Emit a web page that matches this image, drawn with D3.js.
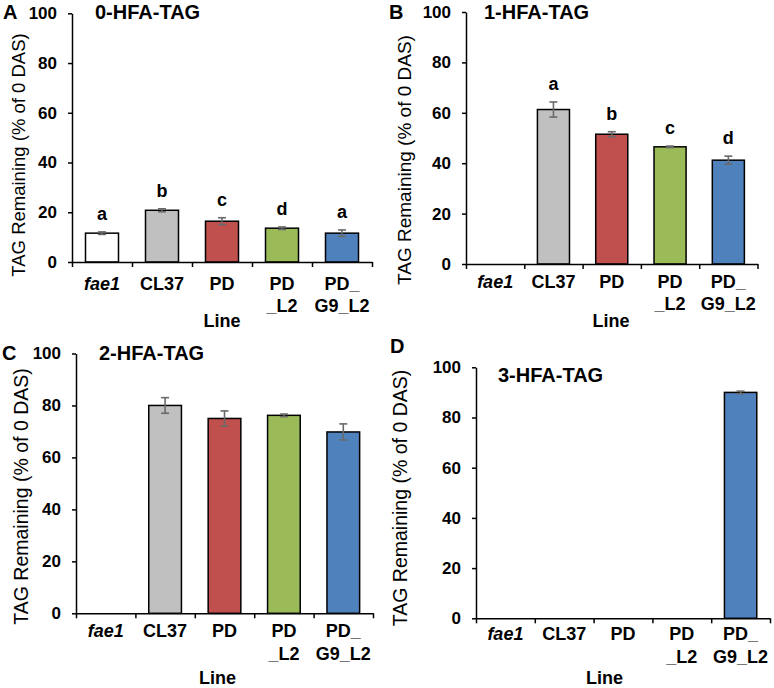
<!DOCTYPE html>
<html><head><meta charset="utf-8">
<script src="https://cdn.jsdelivr.net/npm/d3@7"></script>
<style>
html,body{margin:0;padding:0;background:#fff;}
svg{display:block;font-family:"Liberation Sans",Arial,sans-serif;}
</style></head>
<body>
<svg id="chart" width="774" height="688"></svg>
<script>
// ---------- DATA ----------
const categories = ["fae1", "CL37", "PD", "PD_L2", "PD_G9_L2"];
const categoryLabelLines = [["fae1"], ["CL37"], ["PD"], ["PD", "_L2"], ["PD_", "G9_L2"]];
const barColors = ["#ffffff", "#c0c0c0", "#c0504d", "#9bbb59", "#4f81bd"];
const yTicks = [0, 20, 40, 60, 80, 100];

const values0 = [11.6, 20.8, 16.4, 13.6, 11.6];
const errors0 = [0.5, 0.6, 1.4, 0.5, 1.3];
const letters0 = ["a", "b", "c", "d", "a"];

const values1 = [null, 61.3, 51.5, 46.5, 41.2];
const errors1 = [null, 3.0, 1.0, 0.3, 1.6];
const letters1 = ["", "a", "b", "c", "d"];

const values2 = [null, 80.0, 75.0, 76.2, 69.8];
const errors2 = [null, 3.0, 2.9, 0.5, 3.1];
const letters2 = ["", "", "", "", ""];

const values3 = [null, null, null, null, 90.0];
const errors3 = [null, null, null, null, 0.5];
const letters3 = ["", "", "", "", ""];

const panelTitles = ["0-HFA-TAG", "1-HFA-TAG", "2-HFA-TAG", "3-HFA-TAG"];
const panelLetters = ["A", "B", "C", "D"];
const yAxisTitle = "TAG Remaining (% of 0 DAS)";
const xAxisTitle = "Line";

// ---------- LAYOUT ----------
const layouts = [
  {x0:72, x1:372, y0:262, y100:13.3, letter:[3,19], title:[95,19], yTitle:[18,155], yTitleSize:18.5, l1:289.5, l2:311.5, xTitle:[222,326.5]},
  {x0:466, x1:757.5, y0:264, y100:12, letter:[389,19], title:[484,19], yTitle:[404.5,160], yTitleSize:19, l1:288, l2:310, xTitle:[611,326.5]},
  {x0:76, x1:373, y0:613.3, y100:353.5, letter:[2,360], title:[99,360], yTitle:[21,496.5], yTitleSize:19.5, l1:636.5, l2:659.5, xTitle:[217.5,684]},
  {x0:476, x1:770, y0:618.3, y100:367.3, letter:[390,353], title:[498,382], yTitle:[400,498], yTitleSize:19.5, l1:640, l2:663, xTitle:[604.5,684]}
];
const panelData = [
  {values: values0, errors: errors0, letters: letters0},
  {values: values1, errors: errors1, letters: letters1},
  {values: values2, errors: errors2, letters: letters2},
  {values: values3, errors: errors3, letters: letters3}
];

const svg = d3.select("#chart");

layouts.forEach((L, p) => {
  const D = panelData[p];
  const g = svg.append("g");
  const y = d3.scaleLinear().domain([0, 100]).range([L.y0, L.y100]);
  const x = d3.scaleBand().domain(categories).range([L.x0, L.x1]).paddingInner(0.45).paddingOuter(0.225);
  const xb = d3.scaleLinear().domain([0, categories.length]).range([L.x0, L.x1]);

  // bars
  const rows = categories.map((c, i) => ({c, i, v: D.values[i], e: D.errors[i], t: D.letters[i]})).filter(d => d.v != null);
  g.selectAll("rect.bar").data(rows).join("rect")
    .attr("x", d => x(d.c)).attr("width", x.bandwidth())
    .attr("y", d => y(d.v)).attr("height", d => y(0) - y(d.v))
    .attr("fill", d => barColors[d.i]).attr("stroke", "#000").attr("stroke-width", 1.5);

  // error bars
  const eg = g.selectAll("g.err").data(rows.filter(d => d.e != null)).join("g")
    .attr("stroke", "#6a6a6a").attr("stroke-width", 1.6);
  eg.append("line").attr("x1", d => x(d.c) + x.bandwidth()/2).attr("x2", d => x(d.c) + x.bandwidth()/2)
    .attr("y1", d => y(d.v + d.e)).attr("y2", d => y(d.v - d.e));
  eg.append("line").attr("x1", d => x(d.c) + x.bandwidth()/2 - 4).attr("x2", d => x(d.c) + x.bandwidth()/2 + 4)
    .attr("y1", d => y(d.v + d.e)).attr("y2", d => y(d.v + d.e));
  eg.append("line").attr("x1", d => x(d.c) + x.bandwidth()/2 - 4).attr("x2", d => x(d.c) + x.bandwidth()/2 + 4)
    .attr("y1", d => y(d.v - d.e)).attr("y2", d => y(d.v - d.e));

  // significance letters
  g.selectAll("text.sig").data(rows.filter(d => d.t)).join("text")
    .attr("x", d => x(d.c) + x.bandwidth()/2).attr("y", d => y(d.v + (d.e || 0)) - 12)
    .attr("text-anchor", "middle").attr("font-size", 18).attr("font-weight", "bold").text(d => d.t);

  // y axis
  const ya = g.append("g").attr("transform", `translate(${L.x0},0)`)
    .call(d3.axisLeft(y).tickValues(yTicks).tickSize(4).tickSizeOuter(0).tickPadding(11));
  ya.select(".domain").attr("stroke", "#000").attr("stroke-width", 1.5);
  ya.selectAll(".tick line").attr("stroke", "#000").attr("stroke-width", 1.5);
  ya.selectAll(".tick text").attr("font-size", 17).attr("font-weight", "bold").attr("font-family", null).attr("fill", "#000");

  // x axis (category boundary ticks)
  const xa = g.append("g").attr("transform", `translate(0,${L.y0})`)
    .call(d3.axisBottom(xb).tickValues(d3.range(categories.length + 1)).tickSize(5).tickSizeOuter(0).tickFormat(""));
  xa.select(".domain").attr("stroke", "#000").attr("stroke-width", 1.5);
  xa.selectAll(".tick line").attr("stroke", "#000").attr("stroke-width", 1.5);

  // x category labels
  categories.forEach((c, i) => {
    const lines = categoryLabelLines[i];
    lines.forEach((ln, k) => {
      g.append("text").attr("x", x(c) + x.bandwidth()/2).attr("y", k === 0 ? L.l1 : L.l2)
        .attr("text-anchor", "middle").attr("font-size", 18).attr("font-weight", "bold")
        .attr("font-style", c === "fae1" ? "italic" : "normal").text(ln);
    });
  });

  // axis titles
  g.append("text").attr("x", L.xTitle[0]).attr("y", L.xTitle[1]).attr("text-anchor", "middle")
    .attr("font-size", 18).attr("font-weight", "bold").text(xAxisTitle);
  g.append("text").attr("transform", `translate(${L.yTitle[0]},${L.yTitle[1]}) rotate(-90)`)
    .attr("text-anchor", "middle").attr("dominant-baseline", "central")
    .attr("font-size", L.yTitleSize).text(yAxisTitle);

  // panel title & letter
  g.append("text").attr("x", L.title[0]).attr("y", L.title[1]).attr("font-size", 20).attr("font-weight", "bold").text(panelTitles[p]);
  g.append("text").attr("x", L.letter[0]).attr("y", L.letter[1]).attr("font-size", 20).attr("font-weight", "bold").text(panelLetters[p]);
});
</script>
</body></html>
